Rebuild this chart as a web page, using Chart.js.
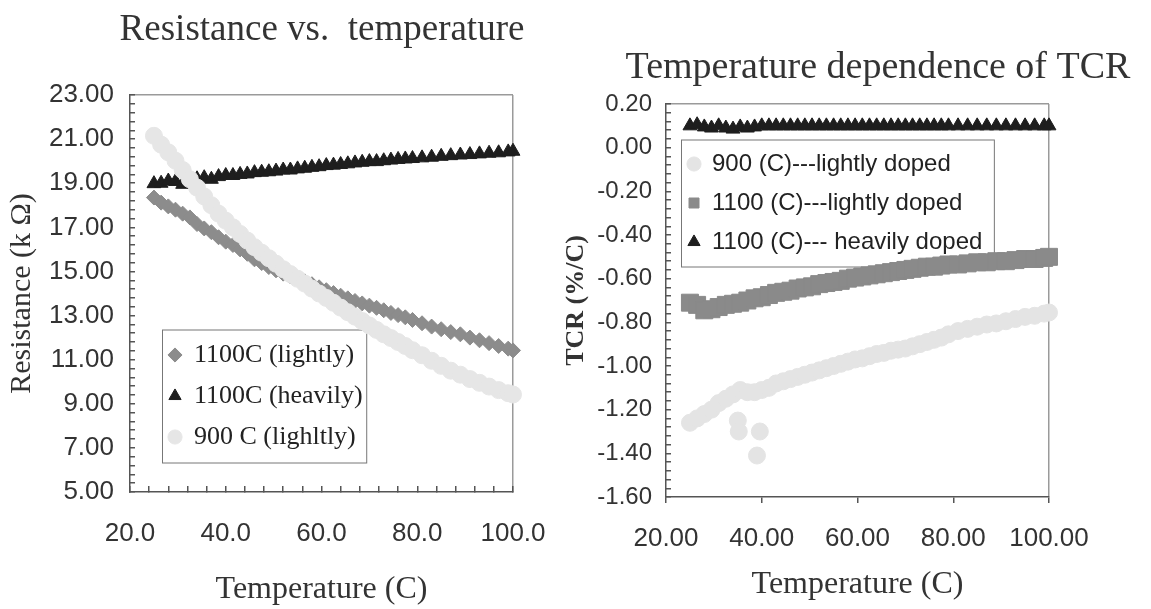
<!DOCTYPE html>
<html>
<head>
<meta charset="utf-8">
<script src="https://cdn.jsdelivr.net/npm/chart.js@4.4.0/dist/chart.umd.min.js"></script>
<style>
  body { margin: 0; background: #fff; overflow: hidden; }
  canvas { position: absolute; top: 0; }
  #graficaRes { left: 0; }
  #graficaTcr { left: 560px; }
</style>
</head>
<body>
<canvas id="graficaRes" width="644" height="609"></canvas>
<canvas id="graficaTcr" width="636" height="609"></canvas>
<script>
// temperaturas (C) de las mediciones, comunes a todas las series
const temps = [25, 26.5, 28, 29.5, 31, 32.5, 34, 35.5, 37, 38.5, 40, 41.5, 43, 44.5, 46, 47.5,
  49, 50.5, 52, 53.5, 55, 56.5, 58, 59.5, 61, 62.5, 64, 65.5, 67, 68.5, 70, 71.5, 73, 74.5,
  76, 77.5, 79, 81, 83, 85, 87, 89, 91, 93, 95, 97, 99, 100];

// resistencia (k ohm)
const resLight1100 = [18.35, 18.12, 17.95, 17.8, 17.62, 17.45, 17.15, 16.95, 16.78, 16.55, 16.35, 16.2,
  16.0, 15.8, 15.55, 15.38, 15.2, 15.05, 14.9, 14.78, 14.65, 14.55, 14.42, 14.28, 14.15, 14.02, 13.9,
  13.78, 13.66, 13.55, 13.45, 13.35, 13.24, 13.12, 13.02, 12.92, 12.8, 12.65, 12.5, 12.38, 12.25,
  12.15, 12.0, 11.88, 11.75, 11.62, 11.5, 11.42];
const resHeavy1100 = [18.98, 19.0, 19.1, 19.08, 18.95, 19.0, 19.2, 19.25, 19.18, 19.3, 19.35, 19.35,
  19.4, 19.42, 19.48, 19.5, 19.52, 19.55, 19.6, 19.6, 19.65, 19.68, 19.72, 19.75, 19.8, 19.82, 19.85,
  19.88, 19.92, 19.95, 19.98, 19.98, 20.02, 20.05, 20.08, 20.1, 20.12, 20.15, 20.18, 20.22, 20.25,
  20.28, 20.3, 20.33, 20.36, 20.38, 20.42, 20.45];
const resLight900 = [21.15, 20.75, 20.4, 20.02, 19.6, 19.18, 18.8, 18.4, 18.0, 17.62, 17.3, 17.0,
  16.7, 16.4, 16.1, 15.85, 15.6, 15.35, 15.1, 14.88, 14.67, 14.45, 14.22, 14.0, 13.8, 13.58, 13.36,
  13.15, 12.95, 12.75, 12.55, 12.35, 12.15, 11.98, 11.8, 11.62, 11.43, 11.2, 10.95, 10.72, 10.5,
  10.32, 10.12, 9.95, 9.78, 9.62, 9.48, 9.42];

// TCR (%/C)
const tcrLight900 = [-1.26, -1.24, -1.22, -1.2, -1.17, -1.15, -1.13, -1.11, -1.12, -1.12, -1.11, -1.1,
  -1.08, -1.07, -1.06, -1.05, -1.04, -1.03, -1.02, -1.01, -1.0, -0.99, -0.98, -0.97, -0.965, -0.955,
  -0.945, -0.94, -0.93, -0.925, -0.92, -0.91, -0.9, -0.89, -0.88, -0.87, -0.855, -0.84, -0.83, -0.82,
  -0.81, -0.805, -0.795, -0.785, -0.775, -0.77, -0.76, -0.755];
const tcrLight1100 = [-0.71, -0.72, -0.745, -0.74, -0.73, -0.72, -0.715, -0.71, -0.7, -0.69, -0.685,
  -0.675, -0.665, -0.66, -0.655, -0.645, -0.64, -0.635, -0.625, -0.62, -0.615, -0.61, -0.6, -0.595,
  -0.59, -0.585, -0.58, -0.575, -0.57, -0.565, -0.56, -0.555, -0.55, -0.545, -0.545, -0.54, -0.535,
  -0.535, -0.53, -0.525, -0.525, -0.52, -0.52, -0.515, -0.51, -0.51, -0.505, -0.5];
const tcrHeavy1100 = [0.1, 0.105, 0.095, 0.09, 0.1, 0.09, 0.085, 0.095, 0.09, 0.095, 0.1, 0.1,
  0.1, 0.1, 0.1, 0.1, 0.1, 0.1, 0.1, 0.1, 0.1, 0.1, 0.1, 0.1, 0.1, 0.1, 0.1, 0.1, 0.1, 0.1, 0.1,
  0.1, 0.1, 0.1, 0.1, 0.1, 0.1, 0.1, 0.1, 0.1, 0.1, 0.1, 0.1, 0.1, 0.1, 0.1, 0.1, 0.1];
// puntos sueltos de la serie 900 C cerca de 35-40 C
const stray900T = [35, 35.2, 39, 39.6];
const stray900V = [-1.25, -1.3, -1.41, -1.3];

// etiquetas de los ejes
const tempLabels = [20, 40, 60, 80, 100];
const resLabels = [5, 7, 9, 11, 13, 15, 17, 19, 21, 23];
const tcrLabels = [-1.6, -1.4, -1.2, -1.0, -0.8, -0.6, -0.4, -0.2, 0.0, 0.2];

const serif = 'Liberation Serif, Times New Roman, serif';
const sans = 'Liberation Sans, Arial, sans-serif';

function puntos(xs, ys) {
  return xs.map((x, i) => ({ x: x, y: ys[i] }));
}

function marcas(min, max, paso) {
  const t = [];
  for (let k = 0; min + k * paso <= max + 1e-9; k++) t.push({ value: +(min + k * paso).toFixed(4) });
  return t;
}

function esEtiqueta(lista, v) {
  return lista.some(m => Math.abs(m - v) < 1e-6);
}

// coloca la leyenda dentro del area del grafico y le dibuja un marco
const leyendaDentro = {
  id: 'leyendaDentro',
  afterLayout(chart, args, opts) {
    const lg = chart.legend;
    lg.left = chart.chartArea.left + opts.dx;
    lg.top = chart.chartArea.top + opts.dy;
    lg.right = lg.left + lg.width;
    lg.bottom = lg.top + lg.height;
  },
  beforeDatasetsDraw(chart, args, opts) {
    const lg = chart.legend;
    if (!lg.columnSizes || !lg.columnSizes.length) return;
    const pad = lg.options.labels.padding;
    const col = lg.columnSizes[0];
    const ctx = chart.ctx;
    ctx.save();
    ctx.strokeStyle = '#777';
    ctx.lineWidth = 1;
    const x0 = lg.left + pad / 2 + 1;
    const y0 = lg.top + 3;
    const x1 = lg.left + pad + col.width + opts.extra;
    const y1 = lg.top + col.height + pad - 2;
    ctx.strokeRect(x0, y0, x1 - x0, y1 - y0);
    ctx.restore();
  }
};

function marcoColor(max) {
  return c => (c.tick && Math.abs(c.tick.value - max) < 1e-6) ? '#9a9a9a' : 'rgba(0,0,0,0)';
}

// eje vacio a la derecha: solo reserva espacio para que el titulo quede centrado como en el original
function ejeVacio(ancho) {
  return { position: 'right', display: true, grid: { display: false }, border: { display: false },
    ticks: { display: false }, afterFit: s => { s.width = ancho; } };
}

// ---------- Resistencia vs temperatura ----------
new Chart(document.getElementById('graficaRes'), {
  type: 'scatter',
  data: {
    datasets: [
      { label: '1100C (lightly)', data: puntos(temps, resLight1100), pointStyle: 'rectRot', pointRadius: 7.5,
        backgroundColor: '#8c8c8c', borderColor: '#8c8c8c', borderWidth: 1, order: 2 },
      { label: '1100C (heavily)', data: puntos(temps, resHeavy1100), pointStyle: 'triangle', pointRadius: 8,
        backgroundColor: '#1e1e1e', borderColor: '#1e1e1e', borderWidth: 1, order: 1 },
      { label: '900 C (lighltly)', data: puntos(temps, resLight900), pointStyle: 'circle', pointRadius: 8.5,
        backgroundColor: '#e6e6e6', borderColor: '#e6e6e6', borderWidth: 1, order: 0 }
    ]
  },
  options: {
    responsive: false,
    animation: false,
    events: [],
    clip: false,
    layout: { padding: 0 },
    plugins: {
      title: { display: true, text: 'Resistance vs.  temperature', color: '#333',
        font: { family: serif, size: 37, weight: 'normal' }, padding: { top: 7.8, bottom: 42.8 } },
      legend: { position: 'chartArea', fullSize: false, align: 'start',
        labels: { usePointStyle: true, boxWidth: 12, boxHeight: 10, padding: 15, color: '#222',
          font: { family: serif, size: 26 }, sort: (a, b) => a.datasetIndex - b.datasetIndex } },
      leyendaDentro: { dx: 24, dy: 232, extra: 4 },
      tooltip: { enabled: false }
    },
    scales: {
      x: {
        min: 20, max: 100,
        afterBuildTicks: s => { s.ticks = marcas(20, 100, 4); },
        afterFit: s => { s.height = 117; },
        border: { color: '#555', width: 1.5 },
        grid: { color: marcoColor(100), lineWidth: 1.5, tickColor: '#555', tickLength: -6 },
        ticks: { autoSkip: false, maxRotation: 0, padding: 32, color: '#333', font: { family: sans, size: 26 },
          callback: v => esEtiqueta(tempLabels, v) ? v.toFixed(1) : '' },
        title: { display: true, text: 'Temperature (C)', color: '#333', font: { family: serif, size: 32 },
          padding: { top: 0, bottom: 0 } }
      },
      y: {
        min: 5, max: 23,
        afterBuildTicks: s => { s.ticks = marcas(5, 23, 0.4); },
        afterFit: s => { s.width = 130; },
        border: { color: '#555', width: 1.5 },
        grid: { color: marcoColor(23), lineWidth: 1.5, tickColor: '#555', tickLength: -5 },
        ticks: { autoSkip: false, padding: 21, color: '#333', font: { family: sans, size: 26 },
          callback: v => esEtiqueta(resLabels, v) ? v.toFixed(2) : '' },
        title: { display: true, text: 'Resistance (k Ω)', color: '#333', font: { family: serif, size: 30 },
          padding: { top: 4, bottom: 0 } }
      },
      y2: ejeVacio(131)
    }
  },
  plugins: [leyendaDentro]
});

// ---------- TCR vs temperatura ----------
new Chart(document.getElementById('graficaTcr'), {
  type: 'scatter',
  data: {
    datasets: [
      { label: '900 (C)---lightly doped', data: puntos(temps, tcrLight900).concat(puntos(stray900T, stray900V)),
        pointStyle: 'circle', pointRadius: 8.5, backgroundColor: '#e4e4e4', borderColor: '#e4e4e4', borderWidth: 1 },
      { label: '1100 (C)---lightly doped', data: puntos(temps, tcrLight1100), pointStyle: 'rect', pointRadius: 12,
        backgroundColor: '#8a8a8a', borderColor: '#8a8a8a', borderWidth: 1 },
      { label: '1100 (C)--- heavily doped', data: puntos(temps, tcrHeavy1100), pointStyle: 'triangle', pointRadius: 8,
        backgroundColor: '#1e1e1e', borderColor: '#1e1e1e', borderWidth: 1 }
    ]
  },
  options: {
    responsive: false,
    animation: false,
    events: [],
    clip: false,
    layout: { padding: 0 },
    plugins: {
      title: { display: true, text: 'Temperature dependence of TCR', color: '#333',
        font: { family: serif, size: 38, weight: 'normal' }, padding: { top: 45.2, bottom: 13.2 } },
      legend: { position: 'chartArea', fullSize: false, align: 'start',
        labels: { usePointStyle: true, boxWidth: 12, boxHeight: 10, padding: 15, color: '#222',
          font: { family: sans, size: 24 }, sort: (a, b) => a.datasetIndex - b.datasetIndex } },
      leyendaDentro: { dx: 7, dy: 33, extra: 12 },
      tooltip: { enabled: false }
    },
    scales: {
      x: {
        min: 20, max: 100,
        afterBuildTicks: s => { s.ticks = marcas(20, 100, 20); },
        afterFit: s => { s.height = 112; },
        border: { color: '#555', width: 1.5 },
        grid: { color: marcoColor(100), lineWidth: 1.5, tickColor: '#555', tickLength: 6 },
        ticks: { autoSkip: false, maxRotation: 0, padding: 20, color: '#333', font: { family: sans, size: 26 },
          callback: v => esEtiqueta(tempLabels, v) ? v.toFixed(2) : '' },
        title: { display: true, text: 'Temperature (C)', color: '#333', font: { family: serif, size: 32 },
          padding: { top: 0, bottom: 5 } }
      },
      y: {
        min: -1.6, max: 0.2,
        afterBuildTicks: s => { s.ticks = marcas(-1.6, 0.2, 0.04); },
        afterFit: s => { s.width = 106; },
        border: { color: '#555', width: 1.5 },
        grid: { color: marcoColor(0.2), lineWidth: 1.5, tickColor: '#555', tickLength: -5 },
        ticks: { autoSkip: false, padding: 19, color: '#333', font: { family: sans, size: 24 },
          callback: v => esEtiqueta(tcrLabels, v) ? v.toFixed(2) : '' },
        title: { display: true, text: 'TCR (%/C)', color: '#333', font: { family: serif, size: 26, weight: 'bold' },
          padding: { top: 1, bottom: 0 } }
      },
      y2: ejeVacio(147)
    }
  },
  plugins: [leyendaDentro]
});
</script>
</body>
</html>
